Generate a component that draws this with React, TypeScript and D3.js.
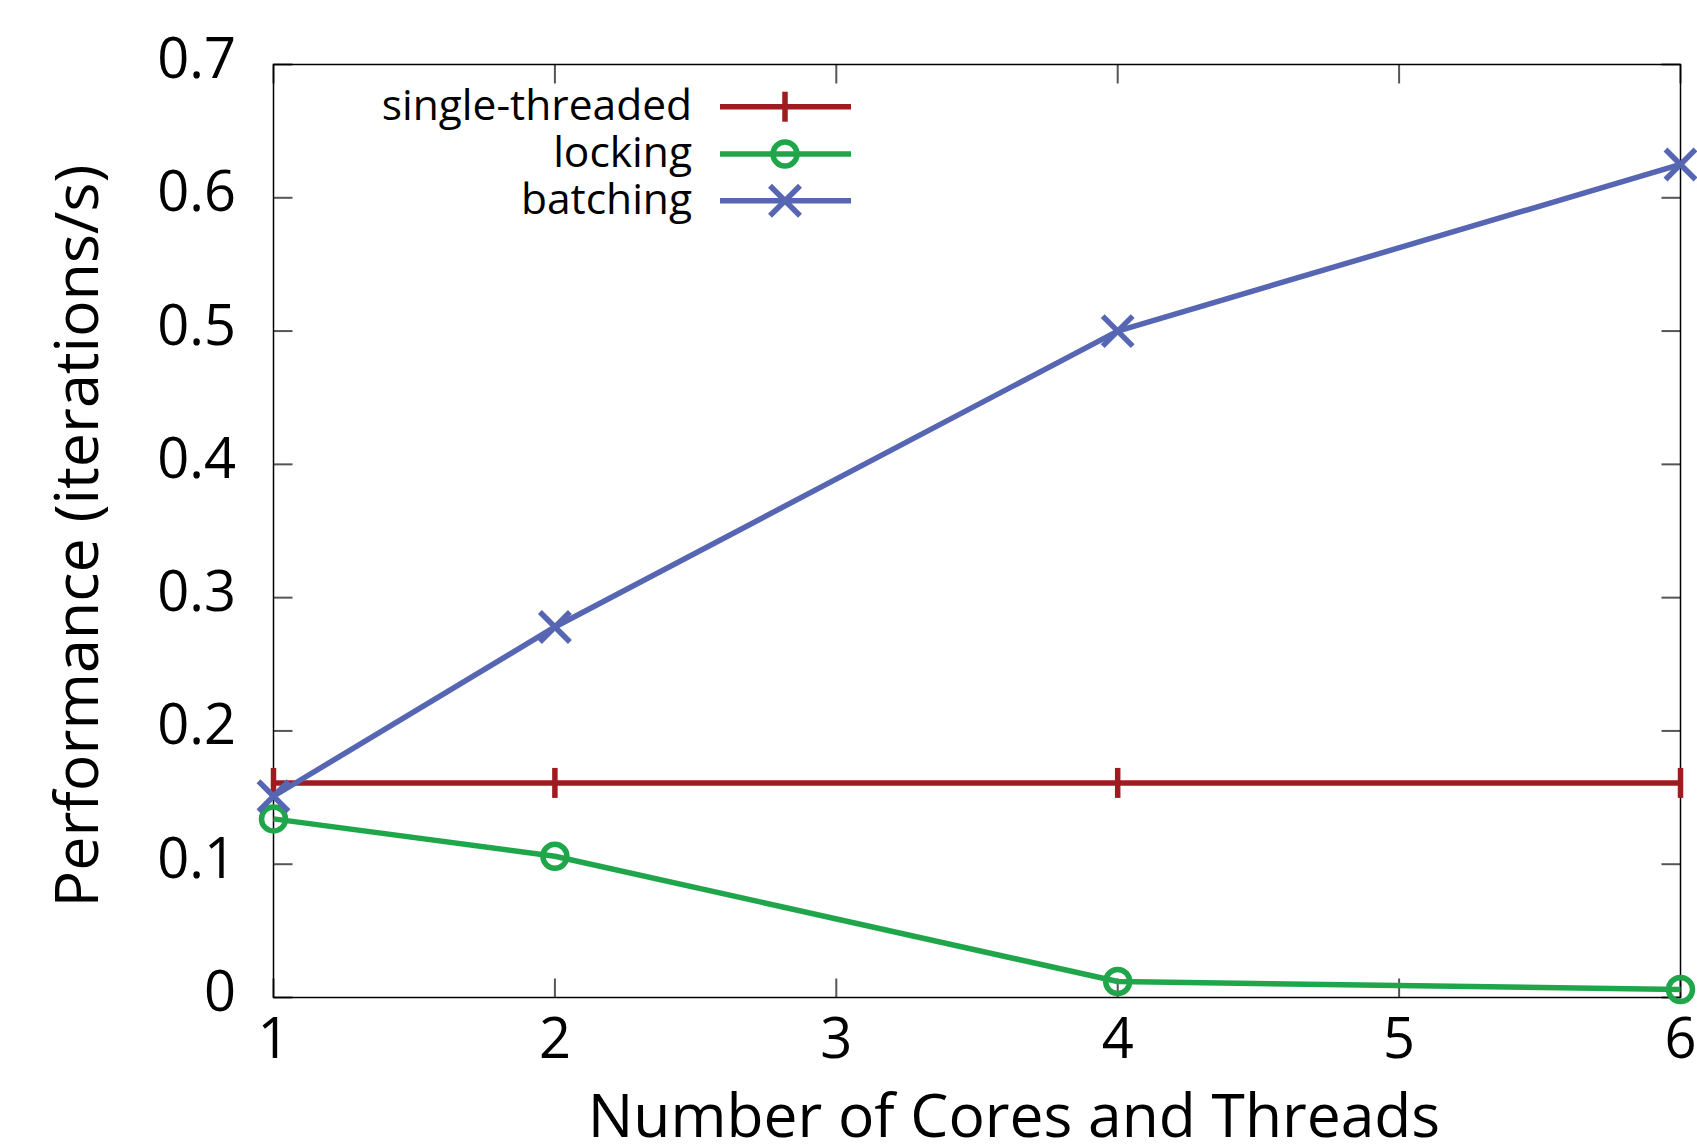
import React from 'react';
import * as d3 from 'd3';

// values
const cores = [1, 2, 4, 6];
const singleThreaded = [0.161, 0.161, 0.161, 0.161];
const locking = [0.134, 0.106, 0.012, 0.006];
const batching = [0.151, 0.278, 0.5, 0.625];

const xTicks = [1, 2, 3, 4, 5, 6];
const yTicks = [0, 0.1, 0.2, 0.3, 0.4, 0.5, 0.6, 0.7];

const series = [
  { name: 'single-threaded', values: singleThreaded, color: '#a01b20', marker: 'plus' },
  { name: 'locking', values: locking, color: '#20a64a', marker: 'circle' },
  { name: 'batching', values: batching, color: '#5666b2', marker: 'cross' },
];

const FONT = '"Open Sans", "Noto Sans", sans-serif';

const Marker = ({ type, x, y, color }) => {
  const s = 15;
  if (type === 'plus') {
    return (
      <g stroke={color} strokeWidth={5.5}>
        <line x1={x} y1={y - s} x2={x} y2={y + s} />
      </g>
    );
  }
  if (type === 'circle') {
    return <circle cx={x} cy={y} r={12} fill="none" stroke={color} strokeWidth={5.5} />;
  }
  return (
    <g stroke={color} strokeWidth={5.5}>
      <line x1={x - s} y1={y - s} x2={x + s} y2={y + s} />
      <line x1={x - s} y1={y + s} x2={x + s} y2={y - s} />
    </g>
  );
};

const App = () => {
  const width = 1697;
  const height = 1145;
  const left = 273.5, right = 1680.5, top = 64.5, bottom = 997.5;

  const x = d3.scaleLinear().domain([1, 6]).range([left, right]);
  const y = d3.scaleLinear().domain([0, 0.7]).range([bottom, top]);

  const line = d3.line<number>()
    .x((d, i) => x(cores[i]))
    .y((d) => y(d));

  const tickLen = 19;
  const legendRows = [106.7, 154, 200.7];

  return (
    <svg width={width} height={height} style={{ position: 'absolute', left: 0, top: 0, background: '#fff' }}
      fontFamily={FONT}>
      <rect x={0} y={0} width={width} height={height} fill="#fff" />

      {/* ticks, mirrored on all sides */}
      <g stroke="#555" strokeWidth={2}>
        {yTicks.map((t) => (
          <g key={'y' + t}>
            <line x1={left} x2={left + tickLen} y1={y(t)} y2={y(t)} />
            <line x1={right} x2={right - tickLen} y1={y(t)} y2={y(t)} />
          </g>
        ))}
        {xTicks.map((t) => (
          <g key={'x' + t}>
            <line x1={x(t)} x2={x(t)} y1={bottom} y2={bottom - tickLen} />
            <line x1={x(t)} x2={x(t)} y1={top} y2={top + tickLen} />
          </g>
        ))}
      </g>

      {/* frame */}
      <rect x={left} y={top} width={right - left} height={bottom - top} fill="none" stroke="#000" strokeWidth={1.5} />

      {/* tick labels */}
      <g fontSize={56} fill="#000">
        {yTicks.map((t) => (
          <text key={'yl' + t} x={236} y={y(t) + 13.5} textAnchor="end">{t === 0 ? '0' : d3.format('.1f')(t)}</text>
        ))}
        {xTicks.map((t) => (
          <text key={'xl' + t} x={x(t)} y={1058} textAnchor="middle">{t}</text>
        ))}
      </g>

      {/* axis titles */}
      <text x={1014} y={1137} textAnchor="middle" fontSize={60.5}>Number of Cores and Threads</text>
      <text transform="translate(98,536) rotate(-90)" textAnchor="middle" fontSize={61}>Performance (iterations/s)</text>

      {/* series */}
      {series.map((s) => (
        <g key={s.name}>
          <path d={line(s.values)} fill="none" stroke={s.color} strokeWidth={5.5} strokeLinejoin="round" />
          {s.values.map((v, i) => (
            <Marker key={i} type={s.marker} x={x(cores[i])} y={y(v)} color={s.color} />
          ))}
        </g>
      ))}

      {/* legend */}
      {series.map((s, i) => (
        <g key={'lg' + s.name}>
          <text x={692} y={legendRows[i] + 13} textAnchor="end" fontSize={42.5}>{s.name}</text>
          <line x1={720} x2={851} y1={legendRows[i]} y2={legendRows[i]} stroke={s.color} strokeWidth={5.5} />
          <Marker type={s.marker} x={785} y={legendRows[i]} color={s.color} />
        </g>
      ))}
    </svg>
  );
};

export default App;
